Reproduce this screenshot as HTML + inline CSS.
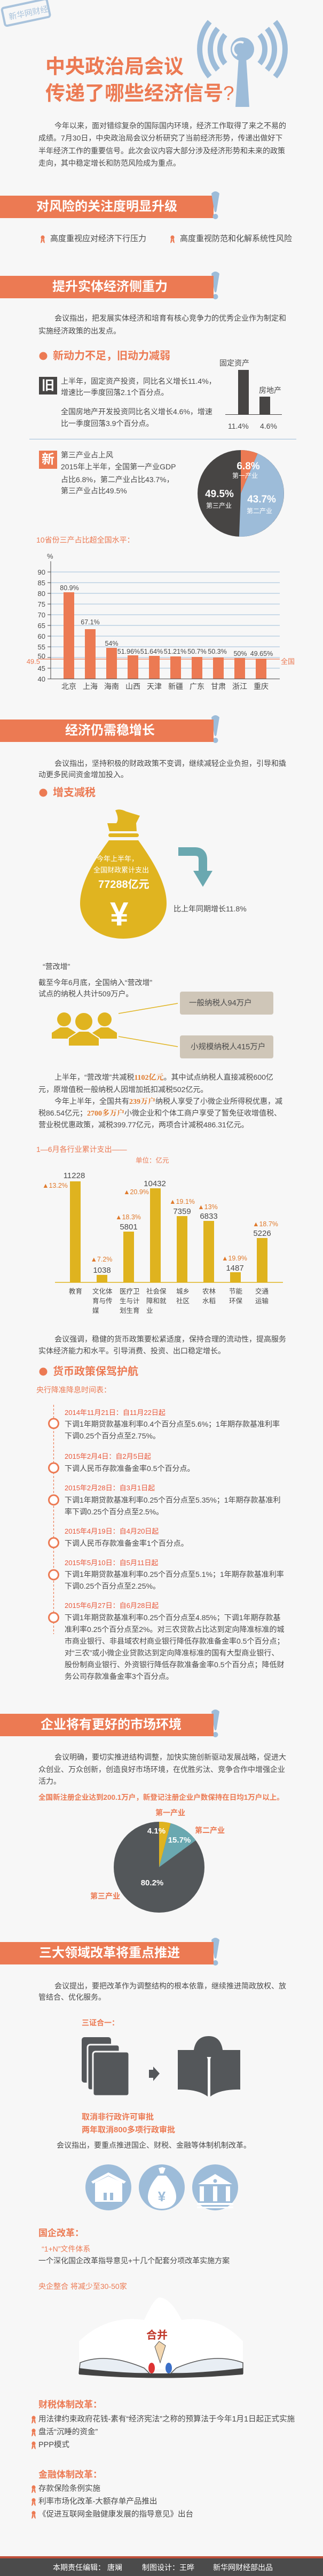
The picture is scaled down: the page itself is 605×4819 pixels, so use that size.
<!DOCTYPE html>
<html><head><meta charset="utf-8">
<style>
*{margin:0;padding:0;box-sizing:border-box}
html,body{width:605px;height:4819px;background:#f7f7f7;overflow:hidden}
body{position:relative;font-family:"Liberation Sans","Noto Sans CJK SC",sans-serif;color:#4a4a4a}
.t{position:absolute;white-space:nowrap;line-height:1;font-size:14px}
.o{color:#ec7a53}
.b{font-weight:bold}
.ban{position:absolute;left:0;width:400px;height:42px;background:#ec7a53}
.ban span{position:absolute;top:9px;color:#fff;font-weight:bold;font-size:24px;line-height:1;white-space:nowrap}
.hl{color:#e07a2c;font-weight:bold;font-family:"Liberation Serif","Noto Serif CJK SC",serif}
.dt{color:#e9573a;font-size:13px}
svg{position:absolute;left:0;top:0}
</style></head><body>

<!-- stamp -->
<svg width="100" height="50" style="left:0;top:0">
<g transform="rotate(-12 50 25)"><rect x="6" y="6" width="86" height="34" rx="4" fill="none" stroke="#a9c3dc" stroke-width="4"/>
<text x="16" y="30" font-size="15" fill="#a9c3dc" font-family="Noto Sans CJK SC,sans-serif">新华网财经</text></g>
</svg>

<!-- antenna -->
<svg width="605" height="210">
<g fill="none" stroke="#9dbcd9" stroke-width="10">
<path d="M392.7,40.6 A80,80 0 0 0 392.7,143.4"/><path d="M515.3,40.6 A80,80 0 0 1 515.3,143.4"/>
<path d="M408,53.4 A60,60 0 0 0 408,130.6"/><path d="M500,53.4 A60,60 0 0 1 500,130.6"/>
<path d="M421.8,65 A42,42 0 0 0 421.8,119"/><path d="M486.2,65 A42,42 0 0 1 486.2,119"/>
</g>
<polygon points="447,108 461,108 467,200 441,200" fill="#9dbcd9"/>
<circle cx="454" cy="92" r="22" fill="#9dbcd9"/>
<path d="M444,104 A12,12 0 0 1 456,80" fill="none" stroke="#f7f7f7" stroke-width="4"/>
</svg>

<div class="t o b" style="left:85px;top:106px;font-size:37px;color:#ec7a53">中央政治局会议</div>
<div class="t o b" style="left:85px;top:156px;font-size:37px">传递了哪些经济信号<span style="font-weight:normal">?</span></div>

<div class="t" style="left:102px;top:228px">今年以来，面对错综复杂的国际国内环境，经济工作取得了来之不易的</div>
<div class="t" style="left:72px;top:251px">成绩。7月30日，中央政治局会议分析研究了当前经济形势，传递出做好下</div>
<div class="t" style="left:72px;top:275px">半年经济工作的重要信号。此次会议内容大部分涉及经济形势和未来的政策</div>
<div class="t" style="left:72px;top:298px">走向，其中稳定增长和防范风险成为重点。</div>

<!-- banner 1 -->
<div class="ban" style="top:366px"><span style="left:68px">对风险的关注度明显升级</span></div>
<svg width="605" height="4819">
<defs>
<g id="ex"><path d="M1,5 Q8.5,-3 16,5 L10.5,38 Q8.5,42 6.5,38 Z" fill="#9dbcd9"/><circle cx="8.5" cy="48" r="5" fill="#9dbcd9"/></g>
<g id="rib"><circle cx="5" cy="4" r="3.6" fill="#ec7a53"/><path d="M2.5,6 L1,15 L3.5,13.5 L5,9 Z M7.5,6 L9,15 L6.5,13.5 L5,9 Z" fill="#ec7a53"/></g>
</defs>
<use href="#ex" x="395" y="357"/>
<use href="#ex" x="395" y="507"/>
<use href="#ex" x="395" y="1337"/>
<use href="#ex" x="395" y="3197"/>
<use href="#ex" x="395" y="3624"/>
<use href="#rib" x="75" y="440"/>
<use href="#rib" x="318" y="440"/>
<use href="#rib" x="58" y="4519"/>
<use href="#rib" x="58" y="4543"/>
<use href="#rib" x="58" y="4567"/>
<use href="#rib" x="58" y="4649"/>
<use href="#rib" x="58" y="4673"/>
<use href="#rib" x="58" y="4697"/>
</svg>

<div class="t" style="left:94px;top:439px;font-size:15px">高度重视应对经济下行压力</div>
<div class="t" style="left:337px;top:439px;font-size:15px">高度重视防范和化解系统性风险</div>

<!-- banner 2 -->
<div class="ban" style="top:516px"><span style="left:98px">提升实体经济侧重力</span></div>
<div class="t" style="left:102px;top:588px">会议指出，把发展实体经济和培育有核心竞争力的优秀企业作为制定和</div>
<div class="t" style="left:72px;top:612px">实施经济政策的出发点。</div>

<svg width="20" height="20" style="left:73px;top:657px"><circle cx="8" cy="9" r="7.5" fill="#ec7a53"/></svg>
<div class="t o b" style="left:99px;top:656px;font-size:20px">新动力不足，旧动力减弱</div>

<div style="position:absolute;left:73px;top:705px;width:34px;height:33px;background:#474544;color:#fff;font-size:24px;line-height:33px;text-align:center;font-weight:bold">旧</div>
<div class="t" style="left:114px;top:706px">上半年，固定资产投资，同比名义增长11.4%，</div>
<div class="t" style="left:114px;top:727px">增速比一季度回落2.1个百分点。</div>
<div class="t" style="left:114px;top:763px">全国房地产开发投资同比名义增长4.6%，增速</div>
<div class="t" style="left:114px;top:785px">比一季度回落3.9个百分点。</div>

<div class="t" style="left:411px;top:672px;font-size:14px">固定资产</div>
<div class="t" style="left:485px;top:723px;font-size:14px">房地产</div>
<div style="position:absolute;left:446px;top:692px;width:20px;height:83px;background:#474544"></div>
<div style="position:absolute;left:486px;top:742px;width:20px;height:33px;background:#474544"></div>
<div style="position:absolute;left:422px;top:775px;width:106px;height:1px;background:#474544"></div>
<div class="t" style="left:427px;top:790px;font-size:14px">11.4%</div>
<div class="t" style="left:487px;top:790px;font-size:14px">4.6%</div>

<div style="position:absolute;left:55px;top:821px;width:500px;height:1px;background:#9dbcd9"></div>

<div style="position:absolute;left:73px;top:843px;width:34px;height:34px;background:#ec7a53;color:#fff;font-size:24px;line-height:34px;text-align:center;font-weight:bold">新</div>
<div class="t" style="left:114px;top:844px">第三产业占上风</div>
<div class="t" style="left:114px;top:866px">2015年上半年，全国第一产业GDP</div>
<div class="t" style="left:114px;top:890px">占比6.8%，第二产业占比43.7%，</div>
<div class="t" style="left:114px;top:911px">第三产业占比49.5%</div>

<!-- pie 1 -->
<svg width="605" height="1100">
<circle cx="451" cy="923" r="81" fill="#474544"/>
<path d="M451,923 L451,842 A81,81 0 0 1 482.5,848.4 Z" fill="#ec7a53"/>
<path d="M451,923 L482.5,848.4 A81,81 0 0 1 447.9,1003.9 Z" fill="#9dbcd9"/>
<g font-family="Liberation Sans,Noto Sans CJK SC,sans-serif" fill="#fff" text-anchor="middle">
<text x="465" y="878" font-size="19" font-weight="bold">6.8%</text>
<text x="459" y="894" font-size="12">第一产业</text>
<text x="411" y="930" font-size="19" font-weight="bold">49.5%</text>
<text x="410" y="950" font-size="12">第三产业</text>
<text x="490" y="940" font-size="19" font-weight="bold">43.7%</text>
<text x="486" y="960" font-size="12">第二产业</text>
</g>
</svg>

<div class="t o" style="left:68px;top:1003px;font-size:14px">10省份三产占比超全国水平：</div>

<!-- chart provinces -->
<svg width="605" height="1300">
<g stroke="#9dbcd9" stroke-width="1">
<line x1="95" y1="1070" x2="524" y2="1070"/><line x1="95" y1="1090" x2="524" y2="1090"/>
<line x1="95" y1="1110" x2="524" y2="1110"/><line x1="95" y1="1130" x2="524" y2="1130"/>
<line x1="95" y1="1150" x2="524" y2="1150"/><line x1="95" y1="1170" x2="524" y2="1170"/>
<line x1="95" y1="1190" x2="524" y2="1190"/><line x1="95" y1="1210" x2="524" y2="1210"/>
<line x1="95" y1="1230" x2="524" y2="1230"/><line x1="95" y1="1250" x2="524" y2="1250"/>
</g>
<g fill="#ec7a53">
<rect x="119" y="1108" width="20" height="162"/><rect x="159" y="1177" width="20" height="93"/>
<rect x="199" y="1212" width="20" height="58"/><rect x="239" y="1226" width="20" height="44"/>
<rect x="279" y="1227" width="20" height="43"/><rect x="319" y="1228" width="20" height="42"/>
<rect x="359" y="1229" width="20" height="41"/><rect x="399" y="1230" width="20" height="40"/>
<rect x="439" y="1231" width="20" height="39"/><rect x="479" y="1232" width="20" height="38"/>
</g>
<line x1="75" y1="1233" x2="524" y2="1233" stroke="#ec7a53" stroke-width="1.2"/>
<line x1="95" y1="1050" x2="95" y2="1270" stroke="#474544"/>
<line x1="89" y1="1270" x2="524" y2="1270" stroke="#474544"/>
<g stroke="#474544"><line x1="89" y1="1070" x2="95" y2="1070"/><line x1="89" y1="1090" x2="95" y2="1090"/><line x1="89" y1="1110" x2="95" y2="1110"/><line x1="89" y1="1130" x2="95" y2="1130"/><line x1="89" y1="1150" x2="95" y2="1150"/><line x1="89" y1="1170" x2="95" y2="1170"/><line x1="89" y1="1190" x2="95" y2="1190"/><line x1="89" y1="1210" x2="95" y2="1210"/><line x1="89" y1="1230" x2="95" y2="1230"/><line x1="89" y1="1250" x2="95" y2="1250"/></g>
<g font-family="Liberation Sans,Noto Sans CJK SC,sans-serif" font-size="13" fill="#4a4a4a" text-anchor="end">
<text x="85" y="1075">90</text><text x="85" y="1095">85</text><text x="85" y="1115">80</text><text x="85" y="1135">75</text><text x="85" y="1155">70</text><text x="85" y="1175">65</text><text x="85" y="1195">60</text><text x="85" y="1215">55</text><text x="85" y="1232">50</text><text x="85" y="1255">45</text><text x="85" y="1275">40</text>
<text x="75" y="1242" fill="#ec7a53">49.5</text>
</g>
<text x="88" y="1045" font-size="13" fill="#4a4a4a" font-family="Liberation Sans,sans-serif">%</text>
<text x="526" y="1242" font-size="13" fill="#ec7a53" font-family="Noto Sans CJK SC,sans-serif">全国</text>
<g font-family="Liberation Sans,Noto Sans CJK SC,sans-serif" font-size="12.5" fill="#4a4a4a" text-anchor="middle">
<text x="130" y="1104">80.9%</text><text x="169" y="1168">67.1%</text><text x="209" y="1208">54%</text>
<text x="241" y="1223">51.96%</text><text x="284" y="1223">51.64%</text><text x="328" y="1223">51.21%</text>
<text x="369" y="1223">50.7%</text><text x="407" y="1223">50.3%</text><text x="450" y="1227">50%</text><text x="490" y="1227">49.65%</text>
</g>
<g font-family="Noto Sans CJK SC,sans-serif" font-size="14" fill="#4a4a4a" text-anchor="middle">
<text x="129" y="1289">北京</text><text x="169" y="1289">上海</text><text x="209" y="1289">海南</text><text x="249" y="1289">山西</text><text x="289" y="1289">天津</text><text x="329" y="1289">新疆</text><text x="369" y="1289">广东</text><text x="409" y="1289">甘肃</text><text x="449" y="1289">浙江</text><text x="489" y="1289">重庆</text>
</g>
</svg>

<!-- banner 3 -->
<div class="ban" style="top:1346px"><span style="left:122px">经济仍需稳增长</span></div>
<div class="t" style="left:102px;top:1421px">会议指出，坚持积极的财政政策不变调，继续减轻企业负担，引导和撬</div>
<div class="t" style="left:72px;top:1442px">动更多民间资金增加投入。</div>
<svg width="20" height="20" style="left:73px;top:1474px"><circle cx="8" cy="9" r="7.5" fill="#ec7a53"/></svg>
<div class="t o b" style="left:99px;top:1473px;font-size:20px">增支减税</div>

<!-- money bag + arrow -->
<svg width="605" height="1800">
<path d="M216,1516 Q224,1512 236,1518 L262,1526 L255,1540 L256,1555 L205,1555 L201,1540 L218,1540 Q224,1532 216,1516 Z" fill="#e0b420"/>
<rect x="203" y="1559" width="57" height="7" rx="3.5" fill="#e0b420"/>
<path d="M204,1572 L259,1572 C290,1615 312,1655 312,1690 C312,1730 275,1756 231,1756 C187,1756 150,1730 150,1690 C150,1655 172,1615 204,1572 Z" fill="#e0b420"/>
<path d="M334,1593 L365,1593 Q380,1593 380,1608 L380,1632" fill="none" stroke="#6aa8b0" stroke-width="16"/>
<polygon points="362,1629 398,1629 380,1659" fill="#6aa8b0"/>
</svg>
<div class="t" style="left:181px;top:1600px;color:#fff;font-size:13px">今年上半年，</div>
<div class="t" style="left:175px;top:1621px;color:#fff;font-size:13px">全国财政累计支出</div>
<div class="t b" style="left:184px;top:1645px;color:#fff;font-size:20px">77288亿元</div>
<div class="t b" style="left:206px;top:1680px;color:#fff;font-size:62px;font-family:'Liberation Sans',sans-serif">¥</div>
<div class="t" style="left:325px;top:1693px">比上年同期增长11.8%</div>

<div class="t" style="left:80px;top:1801px">“营改增”</div>
<div class="t" style="left:72px;top:1831px">截至今年6月底，全国纳入“营改增”</div>
<div class="t" style="left:72px;top:1852px">试点的纳税人共计509万户。</div>

<svg width="605" height="2000">
<g fill="#e0b420">
<circle cx="120" cy="1907" r="13"/><path d="M97,1943 L97,1932 L113,1922 L127,1922 L143,1932 L143,1943 Z"/>
<circle cx="196" cy="1907" r="13"/><path d="M173,1943 L173,1932 L189,1922 L203,1922 L219,1932 L219,1943 Z"/>
<circle cx="157" cy="1911" r="17" stroke="#f7f7f7" stroke-width="2"/><path d="M128,1957 L128,1942 L148,1929 L166,1929 L186,1942 L186,1957 Z" stroke="#f7f7f7" stroke-width="2"/>
</g>
<line x1="222" y1="1896" x2="333" y2="1877" stroke="#e0b420" stroke-width="1.5"/>
<line x1="222" y1="1939" x2="333" y2="1958" stroke="#e0b420" stroke-width="1.5"/>
</svg>
<div style="position:absolute;left:337px;top:1855px;width:175px;height:43px;background:#cfc6b8;border-radius:4px"></div>
<div style="position:absolute;left:337px;top:1937px;width:175px;height:43px;background:#cfc6b8;border-radius:4px"></div>
<div class="t" style="left:354px;top:1870px;font-size:14.5px">一般纳税人94万户</div>
<div class="t" style="left:357px;top:1952px;font-size:14.5px">小规模纳税人415万户</div>

<div class="t" style="left:102px;top:2008px">上半年，“营改增”共减税<span class="hl">1102亿元</span>。其中试点纳税人直接减税600亿</div>
<div class="t" style="left:72px;top:2031px">元，原增值税一般纳税人因增加抵扣减税502亿元。</div>
<div class="t" style="left:102px;top:2053px">今年上半年，全国共有<span class="hl">239万户</span>纳税人享受了小微企业所得税优惠，减</div>
<div class="t" style="left:72px;top:2075px">税86.54亿元；<span class="hl">2700多万户</span>小微企业和个体工商户享受了暂免征收增值税、</div>
<div class="t" style="left:72px;top:2097px">营业税优惠政策，减税399.77亿元，两项合计减税486.31亿元。</div>

<div class="t o" style="left:68px;top:2143px">1—6月各行业累计支出——</div>
<div class="t o" style="left:254px;top:2165px;font-size:12.5px">单位：亿元</div>

<svg width="605" height="2470">
<g fill="#dfb31f">
<rect x="131" y="2210" width="20" height="189"/><rect x="181" y="2385" width="20" height="14"/>
<rect x="231" y="2304" width="20" height="95"/><rect x="281" y="2223" width="20" height="176"/>
<rect x="331" y="2275" width="20" height="124"/><rect x="381" y="2284" width="20" height="115"/>
<rect x="431" y="2380" width="20" height="19"/><rect x="481" y="2316" width="20" height="83"/>
</g>
<line x1="103" y1="2399" x2="530" y2="2399" stroke="#dfb31f" stroke-width="1.5"/>
<g font-family="Liberation Sans,sans-serif" font-size="15" fill="#4a4a4a" text-anchor="middle">
<text x="139" y="2204">11228</text><text x="191" y="2381">1038</text><text x="241" y="2300">5801</text><text x="290" y="2219">10432</text><text x="341" y="2271">7359</text><text x="391" y="2280">6833</text><text x="440" y="2377">1487</text><text x="491" y="2312">5226</text>
</g>
<g font-family="Liberation Sans,DejaVu Sans,sans-serif" font-size="12.5" fill="#e07a2c" text-anchor="middle">
<text x="103" y="2222">▲13.2%</text><text x="190" y="2360">▲7.2%</text><text x="240" y="2281">▲18.3%</text><text x="255" y="2234">▲20.9%</text><text x="341" y="2252">▲19.1%</text><text x="389" y="2262">▲13%</text><text x="439" y="2358">▲19.9%</text><text x="497" y="2294">▲18.7%</text>
</g>
<g font-family="Noto Sans CJK SC,sans-serif" font-size="12.5" fill="#4a4a4a">
<text x="129" y="2420">教育</text>
<text x="173" y="2420">文化体</text><text x="173" y="2438">育与传</text><text x="173" y="2456">媒</text>
<text x="224" y="2420">医疗卫</text><text x="224" y="2438">生与计</text><text x="224" y="2456">划生育</text>
<text x="274" y="2420">社会保</text><text x="274" y="2438">障和就</text><text x="274" y="2456">业</text>
<text x="330" y="2420">城乡</text><text x="330" y="2438">社区</text>
<text x="379" y="2420">农林</text><text x="379" y="2438">水稻</text>
<text x="429" y="2420">节能</text><text x="429" y="2438">环保</text>
<text x="478" y="2420">交通</text><text x="478" y="2438">运输</text>
</g>
</svg>

<div class="t" style="left:102px;top:2498px">会议强调，稳健的货币政策要松紧适度，保持合理的流动性，提高服务</div>
<div class="t" style="left:72px;top:2520px">实体经济能力和水平。引导消费、投资、出口稳定增长。</div>
<svg width="20" height="20" style="left:73px;top:2557px"><circle cx="8" cy="9" r="7.5" fill="#ec7a53"/></svg>
<div class="t o b" style="left:99px;top:2556px;font-size:20px">货币政策保驾护航</div>
<div class="t o" style="left:68px;top:2593px">央行降准降息时间表：</div>

<svg width="605" height="3100">
<line x1="100.5" y1="2628" x2="100.5" y2="3057" stroke="#ec7a53" stroke-width="1.2" stroke-dasharray="4,3"/>
<g fill="#fff" stroke="#ec7a53" stroke-width="3">
<circle cx="100.5" cy="2663" r="9"/><circle cx="100.5" cy="2746" r="9"/><circle cx="100.5" cy="2806" r="9"/>
<circle cx="100.5" cy="2886" r="9"/><circle cx="100.5" cy="2946" r="9"/><circle cx="100.5" cy="3026" r="9"/>
</g>
</svg>
<div class="t dt" style="left:121px;top:2636px">2014年11月21日：自11月22日起</div>
<div class="t" style="left:121px;top:2657px">下调1年期贷款基准利率0.4个百分点至5.6%；1年期存款基准利率</div>
<div class="t" style="left:121px;top:2679px">下调0.25个百分点至2.75%。</div>
<div class="t dt" style="left:121px;top:2718px">2015年2月4日：自2月5日起</div>
<div class="t" style="left:121px;top:2740px">下调人民币存款准备金率0.5个百分点。</div>
<div class="t dt" style="left:121px;top:2777px">2015年2月28日：自3月1日起</div>
<div class="t" style="left:121px;top:2799px">下调1年期贷款基准利率0.25个百分点至5.35%；1年期存款基准利</div>
<div class="t" style="left:121px;top:2821px">率下调0.25个百分点至2.5%。</div>
<div class="t dt" style="left:121px;top:2858px">2015年4月19日：自4月20日起</div>
<div class="t" style="left:121px;top:2880px">下调人民币存款准备金率1个百分点。</div>
<div class="t dt" style="left:121px;top:2917px">2015年5月10日：自5月11日起</div>
<div class="t" style="left:121px;top:2938px">下调1年期贷款基准利率0.25个百分点至5.1%；1年期存款基准利率</div>
<div class="t" style="left:121px;top:2960px">下调0.25个百分点至2.25%。</div>
<div class="t dt" style="left:121px;top:2997px">2015年6月27日：自6月28日起</div>
<div class="t" style="left:121px;top:3019px">下调1年期贷款基准利率0.25个百分点至4.85%；下调1年期存款基</div>
<div class="t" style="left:121px;top:3041px">准利率0.25个百分点至2%。对三农贷款占比达到定向降准标准的城</div>
<div class="t" style="left:121px;top:3063px">市商业银行、非县域农村商业银行降低存款准备金率0.5个百分点；</div>
<div class="t" style="left:121px;top:3085px">对“三农”或小微企业贷款达到定向降准标准的国有大型商业银行、</div>
<div class="t" style="left:121px;top:3107px">股份制商业银行、外资银行降低存款准备金率0.5个百分点；降低财</div>
<div class="t" style="left:121px;top:3129px">务公司存款准备金率3个百分点。</div>

<!-- banner 4 -->
<div class="ban" style="top:3206px"><span style="left:76px">企业将有更好的市场环境</span></div>
<div class="t" style="left:102px;top:3280px">会议明确，要切实推进结构调整，加快实施创新驱动发展战略，促进大</div>
<div class="t" style="left:72px;top:3303px">众创业、万众创新，创造良好市场环境，在优胜劣汰、竞争合作中增强企业</div>
<div class="t" style="left:72px;top:3325px">活力。</div>
<div class="t o b" style="left:72px;top:3356px;font-size:13.5px">全国新注册企业达到200.1万户，新登记注册企业户数保持在日均1万户以上。</div>
<div class="t o b" style="left:291px;top:3384px;font-size:14px">第一产业</div>
<div class="t o b" style="left:365px;top:3417px;font-size:14px">第二产业</div>
<div class="t o b" style="left:169px;top:3540px;font-size:14px">第三产业</div>

<svg width="605" height="3600">
<circle cx="298" cy="3493" r="85" fill="#53575a"/>
<path d="M298,3493 L298,3408 A85,85 0 0 1 319.7,3410.8 Z" fill="#e0b420"/>
<path d="M298,3493 L319.7,3410.8 A85,85 0 0 1 366.6,3442.9 Z" fill="#6aa8b0"/>
<g font-family="Liberation Sans,sans-serif" font-weight="bold" fill="#fff" font-size="15" text-anchor="middle">
<text x="293" y="3430">4.1%</text><text x="336" y="3447">15.7%</text><text x="285" y="3527">80.2%</text>
</g>
</svg>

<!-- banner 5 -->
<div class="ban" style="top:3633px"><span style="left:73px">三大领域改革将重点推进</span></div>
<div class="t" style="left:102px;top:3708px">会议提出，要把改革作为调整结构的根本依靠，继续推进简政放权、放</div>
<div class="t" style="left:72px;top:3729px">管结合、优化服务。</div>
<div class="t o b" style="left:153px;top:3777px;font-size:14px">三证合一：</div>

<svg width="605" height="4000">
<g fill="#54575a">
<rect x="153" y="3811" width="55" height="85" rx="5"/>
<rect x="164" y="3825" width="60" height="85" rx="5" stroke="#f7f7f7" stroke-width="3"/>
<rect x="174" y="3838" width="68" height="83" rx="5" stroke="#f7f7f7" stroke-width="3"/>
<polygon points="279,3872 287,3872 287,3866 299,3879 287,3893 287,3887 279,3887"/>
<path d="M362,3848 Q362,3809 391,3809 Q418,3809 418,3848 Z"/>
<path d="M333,3835 L370,3835 Q386,3840 389,3852 L389,3922 Q370,3908 333,3909 Z"/>
<path d="M450,3835 L413,3835 Q397,3840 394,3852 L394,3922 Q413,3908 450,3909 Z"/>
</g>
</svg>
<div class="t o b" style="left:153px;top:3953px;font-size:15px">取消非行政许可审批</div>
<div class="t o b" style="left:153px;top:3977px;font-size:15px">两年取消800多项行政审批</div>

<div class="t" style="left:106px;top:4006px">会议指出，要重点推进国企、财税、金融等体制机制改革。</div>

<svg width="605" height="4460">
<g fill="#9dbcd9"><ellipse cx="203" cy="4092" rx="43" ry="43"/><ellipse cx="303" cy="4092" rx="43" ry="43"/><ellipse cx="403" cy="4092" rx="43" ry="43"/></g>
<g fill="#fff">
<polygon points="171,4081 203,4064 236,4081 232,4085 203,4070 174,4085"/>
<path d="M178,4083 L203,4071 L229,4083 L229,4119 L178,4119 Z"/>
<path d="M304,4054 L310,4056 L306,4066 L300,4066 L297,4056 Z"/>
<path d="M296,4070 L311,4070 C325,4085 330,4100 330,4110 C330,4124 318,4132 303,4132 C288,4132 277,4124 277,4110 C277,4100 282,4085 296,4070 Z"/>
<polygon points="403,4067 435,4086 371,4086"/>
<rect x="374" y="4090" width="8" height="28"/><rect x="399" y="4090" width="8" height="28"/><rect x="423" y="4090" width="8" height="28"/>
<rect x="369" y="4121" width="68" height="4"/><rect x="369" y="4128" width="68" height="3"/>
</g>
<g fill="#9dbcd9"><rect x="194" y="4102" width="6" height="14"/><rect x="206" y="4102" width="6" height="14"/><circle cx="403" cy="4080" r="3.5"/></g>
<text x="303" y="4118" text-anchor="middle" font-size="26" font-weight="bold" fill="#9dbcd9" font-family="Liberation Sans,sans-serif">¥</text>
</svg>

<div class="t o b" style="left:72px;top:4169px;font-size:17px">国企改革：</div>
<div class="t o" style="left:78px;top:4200px">“1+N”文件体系</div>
<div class="t" style="left:72px;top:4222px">一个深化国企改革指导意见+十几个配套分项改革实施方案</div>
<div class="t o" style="left:72px;top:4270px">央企整合 将减少至30-50家</div>

<!-- cartoon approximation -->
<svg width="605" height="4460">
<path d="M148,4380 Q200,4330 270,4340 Q290,4296 300,4298 Q320,4300 340,4340 Q410,4330 455,4380 L455,4440 Q300,4425 148,4440 Z" fill="#fff"/>
<text x="294" y="4375" text-anchor="middle" font-size="20" font-weight="bold" fill="#c0392b" font-family="Noto Sans CJK SC,sans-serif">合并</text>
<path d="M290,4390 L298,4380 L310,4388 L300,4420 Z" fill="#f3d7b0" stroke="#555" stroke-width="1"/>
<path d="M150,4420 Q200,4400 270,4430 L280,4440 L148,4440 Z" fill="#e8eef4" stroke="#555" stroke-width="1.5"/>
<path d="M455,4420 Q400,4400 330,4430 L320,4440 L455,4440 Z" fill="#e8eef4" stroke="#555" stroke-width="1.5"/>
<ellipse cx="284" cy="4430" rx="6" ry="10" fill="#d33"/><ellipse cx="316" cy="4430" rx="6" ry="10" fill="#3a6fc9"/>
<path d="M148,4430 Q300,4450 455,4430 L455,4442 Q300,4455 148,4442 Z" fill="#444"/>
</svg>

<div class="t o b" style="left:72px;top:4490px;font-size:17px">财税体制改革：</div>
<div class="t" style="left:72px;top:4519px;font-size:14.5px">用法律约束政府花钱-素有“经济宪法”之称的预算法于今年1月1日起正式实施</div>
<div class="t" style="left:72px;top:4543px;font-size:14.5px">盘活“沉睡的资金”</div>
<div class="t" style="left:72px;top:4567px;font-size:14.5px">PPP模式</div>
<div class="t o b" style="left:72px;top:4621px;font-size:17px">金融体制改革：</div>
<div class="t" style="left:72px;top:4649px;font-size:14.5px">存款保险条例实施</div>
<div class="t" style="left:72px;top:4673px;font-size:14.5px">利率市场化改革-大额存单产品推出</div>
<div class="t" style="left:72px;top:4697px;font-size:14.5px">《促进互联网金融健康发展的指导意见》出台</div>

<div style="position:absolute;left:0;top:4782px;width:605px;height:4px;background:#c0503a"></div>
<div style="position:absolute;left:0;top:4786px;width:605px;height:33px;background:#4b4b4b"></div>
<div class="t" style="left:99px;top:4796px;color:#fff">本期责任编辑： 唐斓</div>
<div class="t" style="left:266px;top:4796px;color:#fff">制图设计：王晔</div>
<div class="t" style="left:399px;top:4796px;color:#fff">新华网财经部出品</div>

</body></html>
